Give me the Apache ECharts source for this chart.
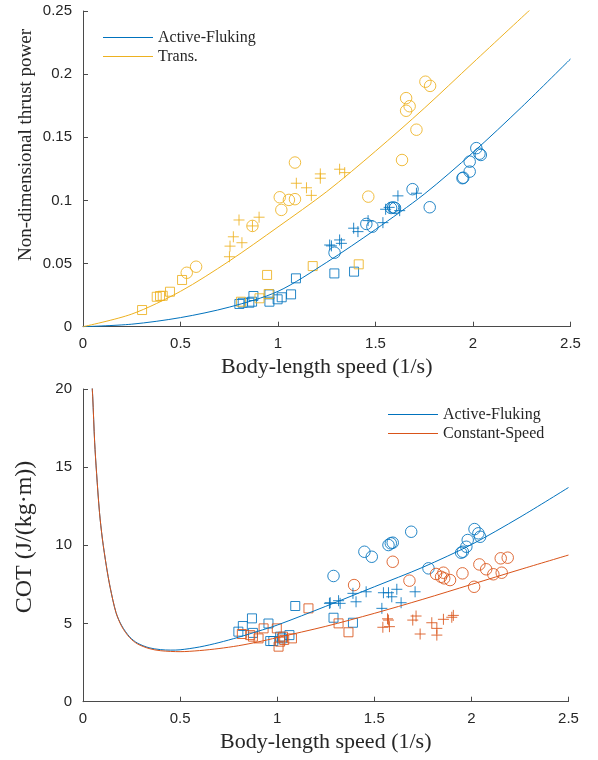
<!DOCTYPE html>
<html>
<head>
<meta charset="utf-8">
<script src="https://cdn.jsdelivr.net/npm/echarts@6/dist/echarts.min.js"></script>
<style>html,body{margin:0;padding:0;background:#fff;}#c{width:598px;height:760px;}</style>
</head>
<body>
<div id="c"></div>
<script>
// ---------- Top panel: non-dimensional thrust power ----------
const topActiveCurve = [[0,0],[0.25,0.002],[0.5,0.0072],[0.75,0.0155],[1.0,0.028],[1.25,0.051],[1.5,0.077],[1.75,0.105],[2.0,0.138],[2.25,0.174],[2.5,0.212]];
const topTransCurve = [[0,0],[0.25,0.010],[0.5,0.028],[0.75,0.052],[1.0,0.079],[1.25,0.107],[1.5,0.139],[1.75,0.173],[2.0,0.209],[2.3,0.252]];
const topActiveSquares = [[0.802,0.018],[0.819,0.019],[0.853,0.019],[0.867,0.0198],[0.874,0.0243],[0.956,0.0198],[0.956,0.0256],[0.998,0.0217],[1.019,0.0233],[1.067,0.0256],[1.092,0.0383],[1.289,0.0422],[1.39,0.0436]];
const topActiveCircles = [[1.29,0.0586],[1.453,0.0814],[1.484,0.0792],[1.58,0.094],[1.59,0.0945],[1.60,0.094],[1.69,0.1089],[1.778,0.0946],[1.946,0.1176],[1.95,0.118],[1.983,0.1228],[1.983,0.1307],[2.017,0.1414],[2.033,0.137],[2.04,0.136]];
const topActivePlus = [[1.274,0.064],[1.265,0.0647],[1.316,0.0687],[1.325,0.066],[1.388,0.078],[1.41,0.0753],[1.462,0.084],[1.538,0.0824],[1.552,0.093],[1.57,0.0945],[1.615,0.1036],[1.624,0.0919],[1.71,0.1057]];
const topTransSquares = [[0.303,0.0132],[0.378,0.0237],[0.395,0.0243],[0.409,0.0245],[0.446,0.0277],[0.508,0.037],[0.81,0.0198],[0.905,0.0225],[0.952,0.0259],[0.944,0.041],[1.178,0.048],[1.414,0.0494]];
const topTransCircles = [[0.532,0.0427],[0.58,0.0475],[0.869,0.0798],[1.009,0.1025],[1.017,0.0925],[1.056,0.1004],[1.087,0.101],[1.087,0.130],[1.463,0.103],[1.636,0.132],[1.657,0.171],[1.675,0.1746],[1.657,0.181],[1.71,0.156],[1.756,0.194],[1.78,0.1907]];
const topTransPlus = [[0.751,0.0554],[0.754,0.0638],[0.771,0.0712],[0.815,0.0665],[0.80,0.0845],[0.869,0.0798],[0.903,0.0867],[1.094,0.1136],[1.146,0.110],[1.171,0.104],[1.217,0.121],[1.217,0.1176],[1.316,0.1247],[1.342,0.122]];

// ---------- Bottom panel: COT ----------
const botActiveCurve = [[0.043,21],[0.05,19.5],[0.06,16.6],[0.07,14.6],[0.085,12.1],[0.1,10.4],[0.12,8.7],[0.14,7.3],[0.17,5.7],[0.2,4.85],[0.24,4.15],[0.28,3.75],[0.34,3.45],[0.4,3.33],[0.45,3.3],[0.5,3.32],[0.6,3.5],[0.7,3.78],[0.8,4.12],[0.9,4.5],[1.0,4.9],[1.25,6.1],[1.5,7.35],[1.75,8.6],[2.0,10.05],[2.25,11.8],[2.5,13.7]];
const botConstCurve = [[0.043,21],[0.05,19.5],[0.06,16.6],[0.07,14.6],[0.085,12.1],[0.1,10.4],[0.12,8.7],[0.14,7.3],[0.17,5.7],[0.2,4.8],[0.24,4.1],[0.28,3.7],[0.34,3.4],[0.4,3.26],[0.5,3.2],[0.6,3.27],[0.7,3.4],[0.8,3.58],[0.9,3.82],[1.0,4.1],[1.25,4.82],[1.5,5.65],[1.75,6.55],[2.0,7.5],[2.25,8.45],[2.5,9.38]];
const botActiveSquares = [[0.80,4.48],[0.823,4.84],[0.87,5.33],[0.875,4.4],[0.955,5.0],[0.964,3.88],[0.98,3.88],[1.015,4.16],[1.024,4.05],[1.063,4.26],[1.093,6.12],[1.29,5.37],[1.39,5.05]];
const botConstSquares = [[0.818,4.33],[0.861,4.26],[0.875,4.16],[0.904,4.05],[0.93,4.69],[0.998,4.69],[1.015,3.84],[1.007,3.52],[1.03,4.16],[1.036,3.95],[1.076,4.05],[1.161,5.97],[1.316,5.01],[1.367,4.44]];
const botActiveCircles = [[1.29,8.04],[1.449,9.59],[1.487,9.27],[1.573,10.02],[1.585,10.13],[1.595,10.17],[1.69,10.87],[1.779,8.53],[1.947,9.53],[1.956,9.59],[1.974,9.91],[1.981,10.34],[2.016,11.04],[2.036,10.77],[2.045,10.55]];
const botConstCircles = [[1.396,7.46],[1.595,8.95],[1.681,7.74],[1.818,8.17],[1.844,7.99],[1.856,8.25],[1.86,7.89],[1.89,7.78],[1.954,8.21],[2.014,7.35],[2.041,8.78],[2.076,8.47],[2.113,8.15],[2.151,9.17],[2.187,9.21],[2.156,8.25]];
const botActivePlus = [[1.269,6.29],[1.273,6.33],[1.316,6.46],[1.324,6.29],[1.39,6.93],[1.406,6.39],[1.458,7.03],[1.539,5.97],[1.547,6.97],[1.573,6.97],[1.59,6.71],[1.616,7.19],[1.638,6.33],[1.71,7.03]];
const botConstPlus = [[1.544,4.76],[1.568,5.3],[1.573,5.22],[1.578,4.80],[1.698,5.22],[1.715,5.48],[1.736,4.33],[1.796,5.05],[1.822,4.69],[1.822,4.26],[1.856,5.27],[1.899,5.4],[1.907,5.52]];

const topYTitle = 'Non-dimensional thrust power';
const botYTitle = 'COT (J/(kg·m))';
const xTitle = 'Body-length speed (1/s)';

const BLUE = '#0072BD', YEL = '#EDB120', ORG = '#D95319';
const PLUS = 'path://M5,0L5,10M0,5L10,5';
const SERIF = '"Liberation Serif", "DejaVu Serif", serif';
const SANS = '"Liberation Sans", Arial, sans-serif';

function line(name, data, color, gi) {
  return {name, type:'line', data, xAxisIndex:gi, yAxisIndex:gi, showSymbol:false, symbol:'none',
    smooth:0.3, lineStyle:{color, width:1}, itemStyle:{color}, z:3, silent:true, clip:true};
}
function scat(data, color, shape, size, gi) {
  return {type:'scatter', data, xAxisIndex:gi, yAxisIndex:gi, symbol:shape, symbolSize:size,
    itemStyle:{color:'rgba(0,0,0,0)', borderColor:color, borderWidth:1, opacity:0.85}, z:2, silent:true};
}
const axisCommon = {
  axisLine:{show:true, lineStyle:{color:'#4a4a4a', width:1}},
  axisTick:{show:true, inside:true, length:5, lineStyle:{color:'#4a4a4a'}},
  splitLine:{show:false},
  axisLabel:{fontFamily:SANS, fontSize:15, color:'#262626'}
};
function xAx(gi) {
  return Object.assign({}, axisCommon, {type:'value', gridIndex:gi, min:0, max:2.5, interval:0.5,
    name:xTitle, nameLocation:'middle', nameGap:30,
    nameTextStyle:{fontFamily:SERIF, fontSize:22, color:'#262626'},
    axisLabel:Object.assign({}, axisCommon.axisLabel, {margin:10})});
}
function yAx(gi, max, interval) {
  return Object.assign({}, axisCommon, {type:'value', gridIndex:gi, min:0, max, interval,
    axisLabel:Object.assign({}, axisCommon.axisLabel, {margin:11})});
}
function vTitle(text, x, y, size) {
  return {type:'text', x, y, rotation:Math.PI/2, silent:true,
    style:{text, font:size+'px "Liberation Serif", serif', fill:'#262626',
      textAlign:'center', textVerticalAlign:'middle', align:'center', verticalAlign:'middle'}};
}
const option = {
  animation:false,
  backgroundColor:'#fff',
  grid:[{left:83, top:11, width:487.5, height:315.7}, {left:83, top:389, width:485.5, height:312.7}],
  xAxis:[xAx(0), xAx(1)],
  yAxis:[yAx(0, 0.25, 0.05), yAx(1, 20, 5)],
  graphic:[vTitle(topYTitle, 26, 145, 19), vTitle(botYTitle, 25, 537, 24)],
  legend:[
    {orient:'vertical', left:103, top:28, padding:0, itemWidth:50, itemHeight:1.2, itemGap:0, icon:'rect',
      textStyle:{fontFamily:SERIF, fontSize:16, color:'#262626', lineHeight:19},
      data:[{name:'Active-Fluking'},{name:'Trans.'}], selectedMode:false},
    {orient:'vertical', left:388, top:405, padding:0, itemWidth:50, itemHeight:1.2, itemGap:0, icon:'rect',
      textStyle:{fontFamily:SERIF, fontSize:16, color:'#262626', lineHeight:19},
      data:[{name:'Active-Fluking'},{name:'Constant-Speed'}], selectedMode:false}
  ],
  series:[
    scat(topActiveSquares, BLUE, 'rect', 9, 0),
    scat(topActiveCircles, BLUE, 'circle', 11.5, 0),
    scat(topActivePlus, BLUE, PLUS, 11, 0),
    scat(topTransSquares, YEL, 'rect', 9, 0),
    scat(topTransCircles, YEL, 'circle', 11.5, 0),
    scat(topTransPlus, YEL, PLUS, 11, 0),
    line('Active-Fluking', topActiveCurve, BLUE, 0),
    line('Trans.', topTransCurve, YEL, 0),
    scat(botActiveSquares, BLUE, 'rect', 9, 1),
    scat(botConstSquares, ORG, 'rect', 9, 1),
    scat(botActiveCircles, BLUE, 'circle', 11.5, 1),
    scat(botConstCircles, ORG, 'circle', 11.5, 1),
    scat(botActivePlus, BLUE, PLUS, 11, 1),
    scat(botConstPlus, ORG, PLUS, 11, 1),
    line('Active-Fluking', botActiveCurve, BLUE, 1),
    line('Constant-Speed', botConstCurve, ORG, 1)
  ]
};
const chart = echarts.init(document.getElementById('c'), null, {renderer:'canvas'});
chart.setOption(option);
</script>
</body>
</html>
